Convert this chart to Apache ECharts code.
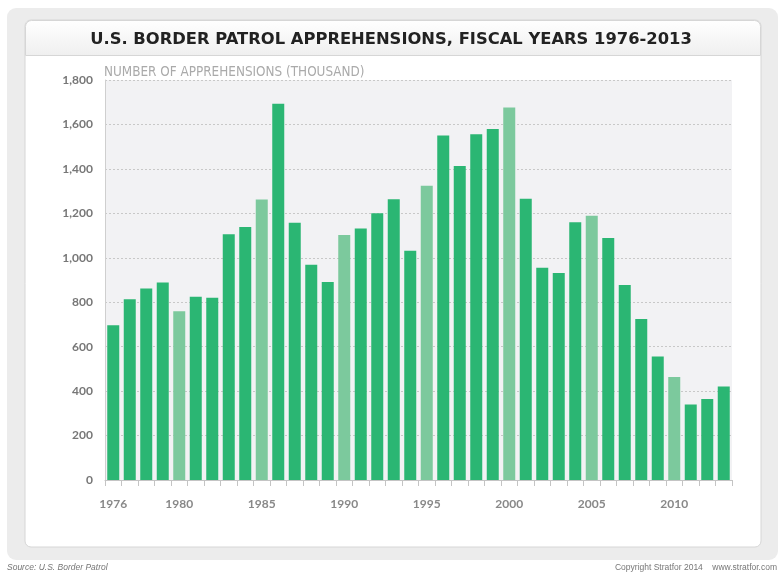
<!DOCTYPE html>
<html>
<head>
<meta charset="utf-8">
<script src="https://cdn.jsdelivr.net/npm/echarts@6/dist/echarts.min.js"></script>
<style>
html,body{margin:0;padding:0;background:#fff;}
#chart{width:784px;height:577px;}
</style>
</head>
<body>
<div id="chart"></div>
<script>
const years = ["1976","1977","1978","1979","1980","1981","1982","1983","1984","1985","1986","1987","1988","1989","1990","1991","1992","1993","1994","1995","1996","1997","1998","1999","2000","2001","2002","2003","2004","2005","2006","2007","2008","2009","2010","2011","2012","2013"];
const apprehensions = [696, 813, 862, 889, 759, 825, 820, 1106, 1139, 1262, 1693, 1158, 969, 891, 1103, 1132, 1200, 1263, 1032, 1324, 1550, 1413, 1556, 1579, 1676, 1266, 955, 932, 1160, 1189, 1089, 877, 724, 556, 463, 340, 365, 421];
const highlightYears = ["1980","1985","1990","1995","2000","2005","2010"];
const labeledYears = ["1976","1980","1985","1990","1995","2000","2005","2010"];
const yTicks = [0, 200, 400, 600, 800, 1000, 1200, 1400, 1600, 1800];

const dark = '#2bb673';
const light = '#7cc99d';

const chart = echarts.init(document.getElementById('chart'), null, {renderer: 'canvas'});
const barData = apprehensions.map((v, i) => ({
  value: v,
  itemStyle: {color: highlightYears.includes(years[i]) ? light : dark}
}));

chart.setOption({
  animation: false,
  backgroundColor: '#ffffff',
  graphic: [
    {type: 'rect', z: -10, shape: {x: 7, y: 8, width: 771, height: 552, r: 9}, style: {fill: '#ececec'}},
    {type: 'rect', z: -9, shape: {x: 25, y: 20, width: 736, height: 527, r: 6}, style: {fill: '#ffffff', stroke: '#d6d6d6', lineWidth: 1}},
    {type: 'rect', z: -8, shape: {x: 25.5, y: 20.5, width: 735, height: 35, r: [6, 6, 0, 0]},
      style: {fill: new echarts.graphic.LinearGradient(0, 0, 0, 1, [{offset: 0, color: '#ffffff'}, {offset: 1, color: '#efefef'}]), stroke: '#d6d6d6', lineWidth: 1}},
    {type: 'text', z: 10, x: 391, y: 40, scaleX: 0.99,
      style: {text: 'U.S. BORDER PATROL APPREHENSIONS, FISCAL YEARS 1976-2013', x: 0, y: 0, align: 'center', verticalAlign: 'middle', font: 'bold 16.5px "DejaVu Sans"', fill: '#222'}},
    {type: 'text', z: 10, x: 104, y: 72, scaleX: 0.86,
      style: {text: 'NUMBER OF APPREHENSIONS (THOUSAND)', x: 0, y: 0, align: 'left', verticalAlign: 'middle', font: '14px "DejaVu Sans"', fill: '#aaa'}},
    {type: 'text', z: 10, left: 7, top: 563, style: {text: 'Source: U.S. Border Patrol', font: 'italic 8.5px "Liberation Sans"', fill: '#777'}},
    {type: 'text', z: 10, right: 7, top: 563, style: {text: 'Copyright Stratfor 2014    www.stratfor.com', font: '8.5px "Liberation Sans"', fill: '#777'}}
  ],
  grid: {left: 105, right: 52, top: 80, bottom: 97, show: true, backgroundColor: '#f2f2f4', borderWidth: 0},
  xAxis: {
    type: 'category',
    data: years,
    axisLine: {show: true, lineStyle: {color: '#c4c4c4'}},
    axisTick: {show: true, interval: 0, length: 6, lineStyle: {color: '#c4c4c4'}},
    axisLabel: {
      interval: (idx, val) => labeledYears.includes(val),
      color: '#888', fontFamily: 'Lato', fontWeight: 'bold', fontSize: 12, margin: 18
    }
  },
  yAxis: {
    type: 'value', min: 0, max: 1800, interval: 200,
    axisLine: {show: true, lineStyle: {color: '#cfcfcf'}},
    axisTick: {show: false},
    splitLine: {show: true, lineStyle: {color: '#c8c8c8', type: [2, 2], width: 1}},
    axisLabel: {
      color: '#777', fontFamily: 'Lato', fontWeight: 'bold', fontSize: 12, margin: 12,
      formatter: v => yTicks.includes(v) ? v.toLocaleString('en-US') : ''
    }
  },
  series: [{
    type: 'bar',
    data: barData,
    barWidth: 12
  }]
});
</script>
</body>
</html>
